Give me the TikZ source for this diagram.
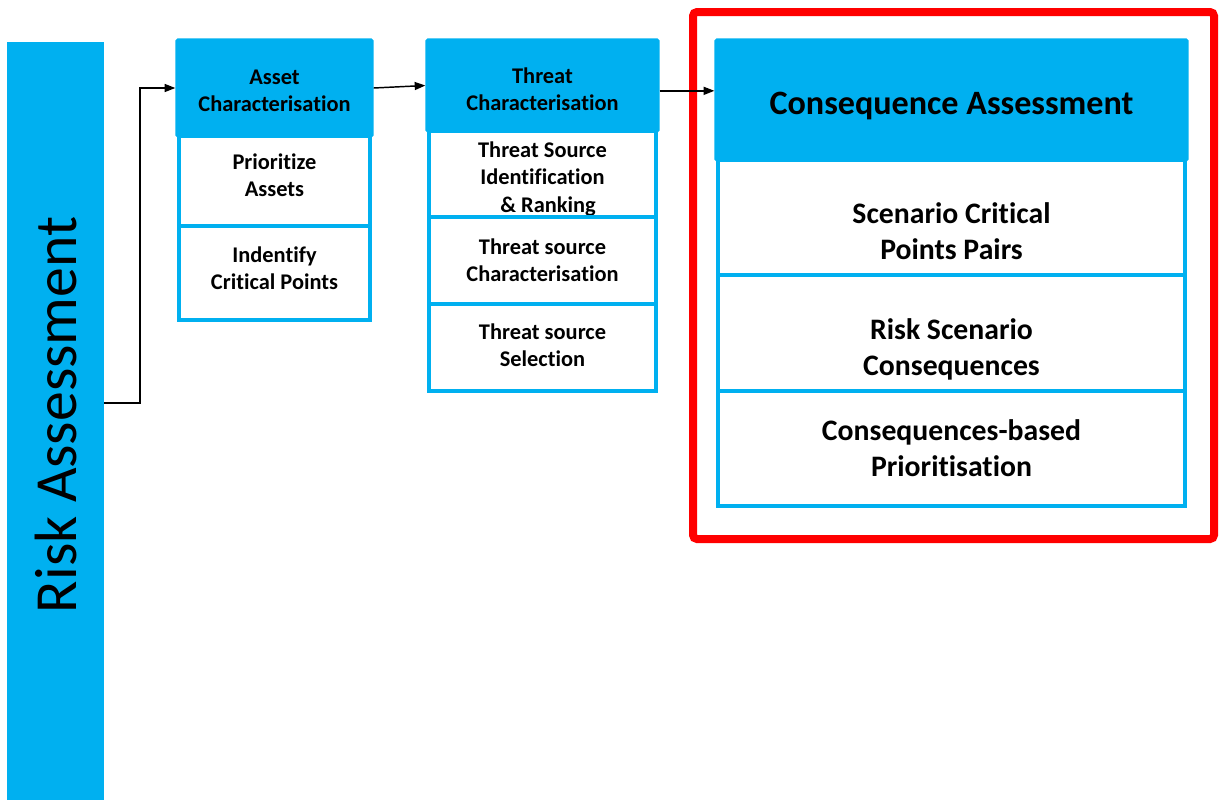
\documentclass[tikz,border=0pt]{standalone}
\usepackage{fontspec}
\setmainfont{Carlito}[Ligatures=NoCommon]
\usetikzlibrary{arrows.meta}
\definecolor{riskblue}{HTML}{00B0F0}

\begin{document}
\begin{tikzpicture}[x=0.75pt,y=-0.75pt,
    head/.style={draw=riskblue,fill=riskblue,line width=2.5pt,rounded corners=1pt},
    item/.style={draw=riskblue,fill=white,line width=3pt},
    txt/.style={align=center,font=\bfseries\fontsize{16.8}{20.4}\selectfont},
    bigtxt/.style={align=center,font=\bfseries\fontsize{22.3}{27}\selectfont},
    stream/.style={-{Triangle[length=8pt,width=6pt]},line width=1.1pt}]
    %myborder
    \useasboundingbox (0,0) rectangle (1219,800);

    %riskbar
    \node[fill=riskblue,minimum width=72.75pt,minimum height=568.5pt,
      label={[name=risktxt,yshift=4.5pt,rotate=90,font=\fontsize{44.8}{50}\selectfont]center:Risk Assessment}] (risk) at (55.5,421) {};

    %asset
    \node[head,minimum width=146.25pt,minimum height=72pt,
      label={[name=aheadtxt,txt,yshift=-2.2pt]center:Asset\\Characterisation}] (ahead) at (274.5,88) {};
    \node[item,minimum width=143.25pt,minimum height=67.5pt,
      label={[name=a1txt,txt,yshift=4.1pt]center:Prioritize\\Assets}] (a1) at (274.5,181) {};
    \node[item,minimum width=143.25pt,minimum height=70.5pt,
      label={[name=a2txt,txt,yshift=3.4pt]center:Indentify\\Critical Points}] (a2) at (274.5,273) {};

    %threat
    \node[head,minimum width=173.25pt,minimum height=68.25pt,
      label={[name=theadtxt,txt,yshift=-3pt]center:Threat\\Characterisation}] (thead) at (542.5,85.5) {};
    \node[item,minimum width=170.25pt,minimum height=64.5pt,
      label={[name=t1txt,txt,yshift=-3.7pt]center:Threat Source\\Identification\\\hspace{0.5em}\& Ranking}] (t1) at (542.5,174) {};
    \node[item,minimum width=170.25pt,minimum height=65.25pt,
      label={[name=t2txt,txt]center:Threat source\\Characterisation}] (t2) at (542.5,260.5) {};
    \node[item,minimum width=170.25pt,minimum height=65.25pt,
      label={[name=t3txt,txt,yshift=1.9pt]center:Threat source\\Selection}] (t3) at (542.5,347.5) {};

    %consequence
    \draw[red,line width=6pt,rounded corners=3pt] (693,12) rectangle (1214,539);
    \node[head,minimum width=353.25pt,minimum height=90pt,
      label={[name=cheadtxt,yshift=-4.5pt,font=\bfseries\fontsize{25.6}{30}\selectfont]center:Consequence Assessment}] (chead) at (951.5,100) {};
    \node[item,minimum width=350.25pt,minimum height=86.25pt,
      label={[name=c1txt,bigtxt,yshift=-10.1pt]center:Scenario Critical\\Points Pairs}] (c1) at (951.5,217.5) {};
    \node[item,minimum width=350.25pt,minimum height=87pt,
      label={[name=c2txt,bigtxt,yshift=-12.4pt]center:Risk Scenario\\Consequences}] (c2) at (951.5,333) {};
    \node[item,minimum width=350.25pt,minimum height=86.25pt,
      label={[name=c3txt,bigtxt]center:Consequences-based\\Prioritisation}] (c3) at (951.5,448.5) {};

    %arrows
    \draw[stream] (risk.east |- 0,403) -- (140,403) |- (ahead.west);
    \draw[stream] (ahead.east) -- (thead.west);
    \draw[stream] ([yshift=-4pt]thead.east) -- ([yshift=-4pt]thead.east -| chead.west);

\end{tikzpicture}
\end{document}
